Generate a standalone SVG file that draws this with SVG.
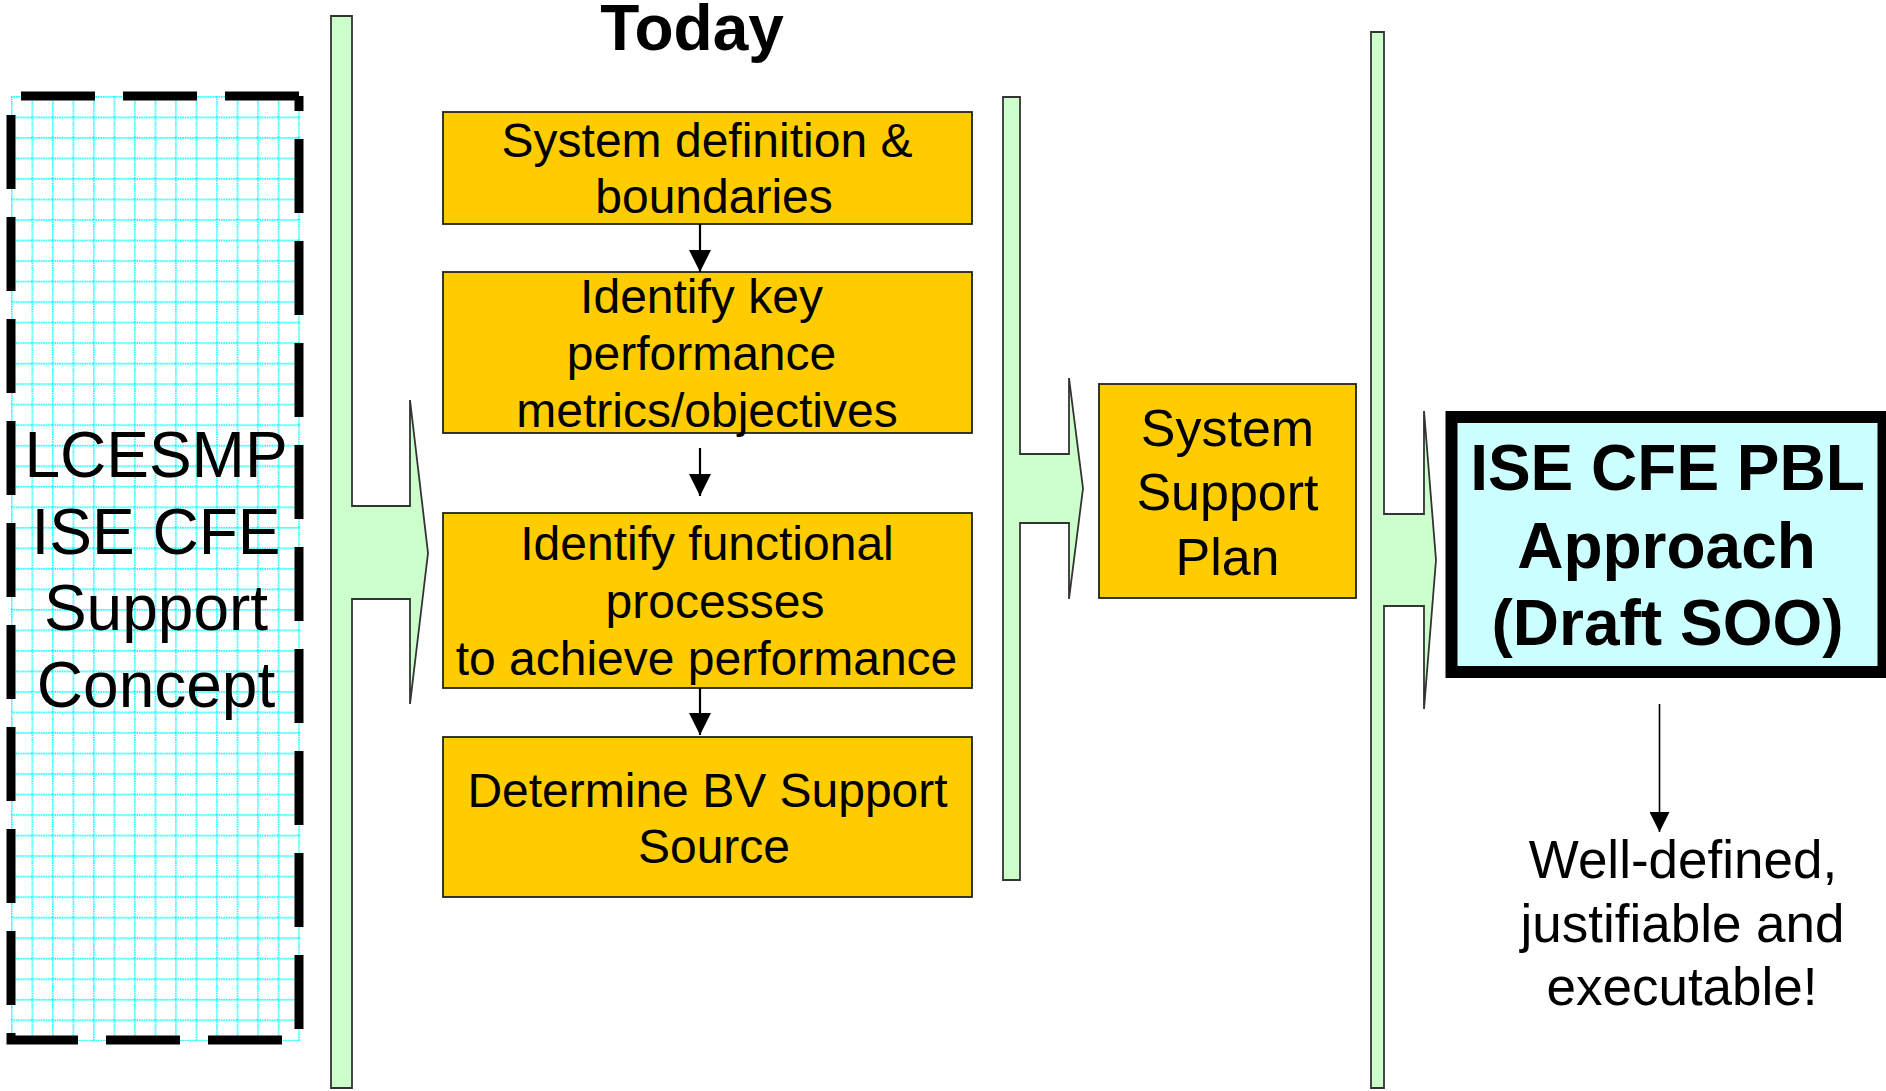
<svg xmlns="http://www.w3.org/2000/svg" width="1886" height="1091" viewBox="0 0 1886 1091">
<style>
  text { font-family: "Liberation Sans", Arial, sans-serif; fill: #000; text-anchor: middle; }
  .bold { font-weight: bold; }
  .ybox { fill: #FFCC00; stroke: #222; stroke-width: 1.8; }
  .ytxt { font-size: 48px; }
  .bar { fill: #CCFFCC; stroke: #333; stroke-width: 1.8; stroke-linejoin: miter; }
  .dash { fill: none; stroke: #000; stroke-width: 9; stroke-dasharray: 74 28; stroke-linecap: butt; stroke-linejoin: miter; }
  .conn { fill: none; stroke: #000; stroke-width: 2.2; }
  .conn-thin { fill: none; stroke: #000; stroke-width: 1.6; }
</style>
<defs>
  <pattern id="grid" patternUnits="userSpaceOnUse" x="11" y="96" width="20.52" height="20.52">
    <path d="M0,0.8 H20.52 M0.8,0 V20.52" stroke="#00FFFF" stroke-width="1.6" stroke-dasharray="1.5 0.9" fill="none"/>
  </pattern>
  <marker id="ah" viewBox="0 0 22 22" refX="22" refY="11" markerWidth="22" markerHeight="22" markerUnits="userSpaceOnUse" orient="auto">
    <path d="M0,0 L22,11 L0,22 Z" fill="#000"/>
  </marker>
  <marker id="ah2" viewBox="0 0 20 20" refX="20" refY="10" markerWidth="20" markerHeight="20" markerUnits="userSpaceOnUse" orient="auto">
    <path d="M0,0 L20,10 L0,20 Z" fill="#000"/>
  </marker>
</defs>
<rect x="0" y="0" width="1886" height="1091" fill="#fff"/>

<g id="node-lcesmp">
  <rect x="11" y="96" width="289.5" height="945" fill="#fff"/>
  <rect x="11" y="96" width="289.5" height="945" fill="url(#grid)"/>
  <path class="dash" d="M11,96 V1040 H299" stroke-dashoffset="83"/>
  <path class="dash" d="M299,1040 V96" stroke-dashoffset="91"/>
  <path class="dash" d="M299,96 H11" stroke-dashoffset="0"/>
  <text x="156" y="477" font-size="64">LCESMP</text>
  <text x="156" y="554" font-size="64">ISE CFE</text>
  <text x="156" y="630" font-size="64">Support</text>
  <text x="156" y="707" font-size="64">Concept</text>
</g>

<g id="node-bar1">
  <polygon class="bar" points="331,16 352,16 352,506 410,506 410,400 428,553 410,704 410,599 352,599 352,1088 331,1088"/>
</g>

<g id="node-today">
  <text class="bold" x="692" y="50" font-size="64">Today</text>
</g>

<g id="node-box1">
  <rect class="ybox" x="443" y="112" width="529" height="112"/>
  <text class="ytxt" x="707" y="157">System definition &amp;</text>
  <text class="ytxt" x="714" y="213">boundaries</text>
</g>

<g id="node-box2">
  <rect class="ybox" x="443" y="272" width="529" height="161"/>
  <text class="ytxt" x="701.5" y="313">Identify key</text>
  <text class="ytxt" x="701.5" y="370">performance</text>
  <text class="ytxt" x="707" y="427">metrics/objectives</text>
</g>

<g id="node-box3">
  <rect class="ybox" x="443" y="513" width="529" height="175"/>
  <text class="ytxt" x="707" y="560">Identify functional</text>
  <text class="ytxt" x="715" y="618">processes</text>
  <text class="ytxt" x="706.5" y="675">to achieve performance</text>
</g>

<g id="node-box4">
  <rect class="ybox" x="443" y="737" width="529" height="160"/>
  <text class="ytxt" x="707.5" y="807">Determine BV Support</text>
  <text class="ytxt" x="714" y="863">Source</text>
</g>

<g id="node-bar2">
  <polygon class="bar" points="1003,97 1020,97 1020,454 1069,454 1069,378 1083,488.5 1069,599 1069,523 1020,523 1020,880 1003,880"/>
</g>

<g id="node-ssp">
  <rect class="ybox" x="1099" y="384" width="257" height="214"/>
  <text x="1227.5" y="446" font-size="52">System</text>
  <text x="1227.5" y="510" font-size="52">Support</text>
  <text x="1227.5" y="575" font-size="52">Plan</text>
</g>

<g id="node-bar3">
  <polygon class="bar" points="1371,32 1384,32 1384,514 1424,514 1424,411 1436,560 1424,709 1424,606 1384,606 1384,1088 1371,1088"/>
</g>

<g id="node-ise">
  <rect x="1451.5" y="417" width="432" height="255" fill="#CCFFFF" stroke="#000" stroke-width="12"/>
  <text class="bold" x="1667.5" y="490" font-size="64">ISE CFE PBL</text>
  <text class="bold" x="1666.5" y="568" font-size="64">Approach</text>
  <text class="bold" x="1667.5" y="645" font-size="64">(Draft SOO)</text>
</g>

<g id="node-result">
  <text x="1683" y="878" font-size="53">Well-defined,</text>
  <text x="1682.5" y="942" font-size="53">justifiable and</text>
  <text x="1682" y="1005" font-size="53">executable!</text>
</g>

<g id="connectors">
  <line class="conn" x1="700" y1="224" x2="700" y2="272" marker-end="url(#ah)"/>
  <line class="conn" x1="700" y1="448" x2="700" y2="496" marker-end="url(#ah)"/>
  <line class="conn" x1="700" y1="688" x2="700" y2="735" marker-end="url(#ah)"/>
  <line class="conn-thin" x1="1659.5" y1="704" x2="1659.5" y2="832" marker-end="url(#ah2)"/>
</g>
</svg>
